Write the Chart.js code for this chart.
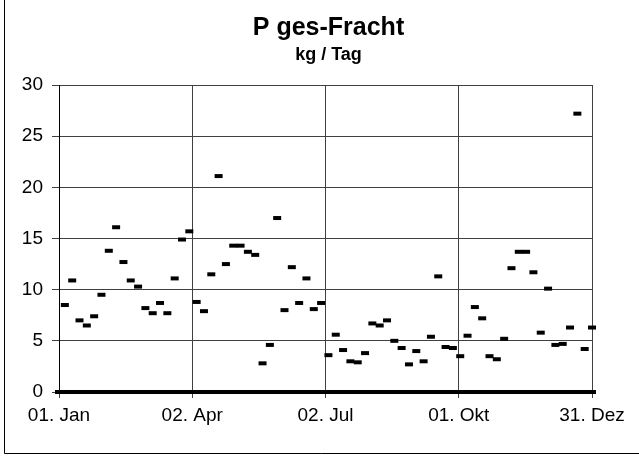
<!DOCTYPE html>
<html>
<head>
<meta charset="utf-8">
<script src="https://cdn.jsdelivr.net/npm/chart.js@4/dist/chart.umd.min.js"></script>
<style>
  body { margin: 0; background: #fff; }
  canvas { display: block; }
</style>
</head>
<body>
<canvas id="chart" width="639" height="468"></canvas>
<script>
// Tag im Jahr (0 = 01. Jan) der Messungen und gemessene Fracht in kg/Tag
var messTage = [4, 9, 14, 19, 24, 29, 34, 39, 44, 49, 54, 59, 64, 69, 74, 79, 84, 89, 94, 99,
  104, 109, 114, 119, 124, 129, 134, 139, 144, 149, 154, 159, 164, 169, 174, 179, 184, 189, 194, 199,
  204, 209, 214, 219, 224, 229, 234, 239, 244, 249, 254, 259, 264, 269, 274, 279, 284, 289, 294, 299,
  304, 309, 314, 319, 324, 329, 334, 339, 344, 349, 354, 359, 364];
var pFracht = [8.5, 10.9, 7.0, 6.5, 7.4, 9.5, 13.8, 16.1, 12.7, 10.9,
  10.3, 8.2, 7.7, 8.7, 7.7, 11.1, 14.9, 15.7, 8.8, 7.9,
  11.5, 21.1, 12.5, 14.3, 14.3, 13.7, 13.4, 2.8, 4.6, 17.0,
  8.0, 12.2, 8.7, 11.1, 8.1, 8.7, 3.6, 5.6, 4.1, 3.0,
  2.9, 3.8, 6.7, 6.5, 7.0, 5.0, 4.3, 2.7, 4.0, 3.0,
  5.4, 11.3, 4.4, 4.3, 3.5, 5.5, 8.3, 7.2, 3.5, 3.2,
  5.2, 12.1, 13.7, 13.7, 11.7, 5.8, 10.1, 4.6, 4.7, 6.3,
  27.2, 4.2, 6.3];

// Tage ohne Messung stehen auf 0 - im Bild eine durchgehende Linie
var nullTage = [0, 364];
var nullWerte = [0, 0];

var xTickTage = [0, 91, 182, 273, 364];
var xTickLabels = ['01. Jan', '02. Apr', '02. Jul', '01. Okt', '31. Dez'];

var titel = 'P ges-Fracht';
var untertitel = 'kg / Tag';

var schrift = '"Liberation Sans", Arial, sans-serif';

var punkte = messTage.map(function (t, i) { return { x: t, y: pFracht[i] }; });
var nullLinie = nullTage.map(function (t, i) { return { x: t, y: nullWerte[i] }; });

var rahmenUndTitel = {
  id: 'rahmenUndTitel',
  beforeDraw: function (chart) {
    var c = chart.ctx;
    c.save();
    c.fillStyle = '#fff';
    c.fillRect(0, 0, chart.width, chart.height);
    c.strokeStyle = '#000';
    c.lineWidth = 1;
    c.beginPath();
    c.moveTo(4.5, 0);
    c.lineTo(4.5, 453.5);
    c.lineTo(chart.width, 453.5);
    c.stroke();
    c.restore();
  },
  afterDraw: function (chart) {
    var c = chart.ctx;
    var cx = (chart.chartArea.left + chart.chartArea.right) / 2 + 3;
    c.save();
    c.fillStyle = '#000';
    c.textAlign = 'center';
    c.textBaseline = 'alphabetic';
    c.font = 'bold 25px ' + schrift;
    c.fillText(titel, cx, 35);
    c.font = 'bold 18px ' + schrift;
    c.fillText(untertitel, cx, 60);
    c.restore();
  }
};

var ctx = document.getElementById('chart').getContext('2d');
new Chart(ctx, {
  type: 'scatter',
  data: {
    datasets: [
      {
        label: 'null',
        type: 'line',
        data: nullLinie,
        borderColor: '#000',
        borderWidth: 4,
        pointStyle: 'line',
        pointRadius: 4,
        pointBorderWidth: 4,
        pointBorderColor: '#000',
        clip: false
      },
      {
        label: titel,
        data: punkte,
        pointStyle: 'line',
        pointRadius: 4,
        pointBorderWidth: 4,
        borderColor: '#000',
        backgroundColor: '#000',
        clip: false
      }
    ]
  },
  options: {
    responsive: false,
    animation: false,
    layout: { padding: { top: 85, right: 47, left: 0, bottom: 0 } },
    plugins: {
      legend: { display: false },
      tooltip: { enabled: false }
    },
    scales: {
      x: {
        type: 'linear',
        min: 0,
        max: 364,
        afterBuildTicks: function (scale) {
          scale.ticks = xTickTage.map(function (v) { return { value: v }; });
        },
        afterFit: function (scale) { scale.height = 76; },
        ticks: {
          autoSkip: false,
          maxRotation: 0,
          color: '#000',
          padding: 6,
          font: { family: schrift, size: 19 },
          callback: function (v, i) { return xTickLabels[i]; }
        },
        grid: { color: '#404040', lineWidth: 1, tickLength: 6 },
        border: { color: '#000' }
      },
      y: {
        min: 0,
        max: 30,
        afterFit: function (scale) { scale.width = 59; },
        ticks: {
          stepSize: 5,
          color: '#000',
          padding: 9,
          font: { family: schrift, size: 19 }
        },
        grid: { color: '#404040', lineWidth: 1, tickLength: 7 },
        border: { color: '#000' }
      }
    }
  },
  plugins: [rahmenUndTitel]
});
</script>
</body>
</html>
